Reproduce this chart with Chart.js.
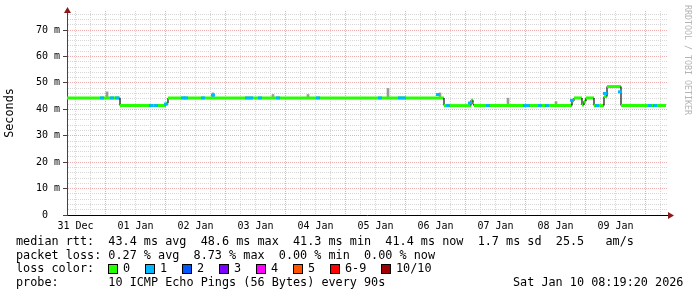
<!DOCTYPE html>
<html>
<head>
<title>Smokeping latency</title>
<style>
body {
	margin: 0;
	background: #fff;
}
#chart {
	display: block;
}
</style>
</head>
<body>
<canvas id="chart" width="697" height="297"></canvas>
<script src="https://cdn.jsdelivr.net/npm/chart.js@4/dist/chart.umd.min.js"></script>
<script>
// x values are hours since 31 Dec 00:00, y values are milliseconds
var dayLabels = ['31 Dec', '01 Jan', '02 Jan', '03 Jan', '04 Jan', '05 Jan', '06 Jan', '07 Jan', '08 Jan', '09 Jan'];

// median rtt, as runs: each run starts at runStart[i] with level runValue[i]
var runStart = [8.6, 29.8, 48.2, 49.0, 159.4, 170.2, 171.0, 171.4, 210.6, 211.4, 214.6, 215.4, 216.2, 219.4, 223.4, 224.6, 230.2];
var runValue = [44.3, 41.4, 42.3, 44.3, 41.4, 43.4, 42.0, 41.4, 43.2, 44.3, 41.6, 43.0, 44.3, 41.4, 44.8, 48.6, 41.4];
var runEnd = 248.2;

// samples with 1/10 loss
var lossTimes = [22.6, 26.6, 28.6, 42.2, 44.2, 48.2, 55.0, 56.2, 63.0, 67.0, 80.6, 82.2, 85.8, 93.0, 109.0, 133.8, 141.8, 143.4, 157.0, 161.0, 169.8, 177.0, 191.8, 193.0, 197.8, 200.6, 210.6, 220.6, 223.8, 229.8, 241.8, 243.8];
var lossRtt = [44.3, 44.3, 44.3, 41.4, 41.4, 42.0, 44.3, 44.3, 44.3, 45.4, 44.3, 44.3, 44.3, 44.3, 44.3, 44.3, 44.3, 44.3, 45.6, 41.4, 42.4, 41.4, 41.4, 41.4, 41.4, 41.4, 43.4, 41.4, 46.0, 46.6, 41.4, 41.4];

// smoke: spread of single pings
var smokeTimes = [24.6, 67.0, 91.0, 105.0, 137.0, 157.8, 185.0, 204.2];
var smokeLow = [44.3, 44.3, 44.3, 44.3, 44.3, 44.3, 41.4, 41.4];
var smokeHigh = [46.6, 46.2, 45.6, 45.6, 47.9, 46.2, 44.2, 42.9];

var statsRtt = 'median rtt:  43.4 ms avg  48.6 ms max  41.3 ms min  41.4 ms now  1.7 ms sd  25.5   am/s';
var statsLoss = 'packet loss: 0.27 % avg  8.73 % max  0.00 % min  0.00 % now';
var lossLabels = ['0', '1', '2', '3', '4', '5', '6-9', '10/10'];
var lossColors = ['#26ff00', '#00b8ff', '#0059ff', '#7e00ff', '#ff00ff', '#ff5500', '#ff0000', '#a10000'];
var probeText = 'probe:       10 ICMP Echo Pings (56 Bytes) every 90s';
var dateText = 'Sat Jan 10 08:19:20 2026';

var xMin = 8.6, xMax = 248.6, yMax = 77.2;
var MONO = '"DejaVu Sans Mono", monospace';
var MAJOR = '#eeb0b0', MINOR = '#d6d6d6';

// build the line points from the runs
var medianPoints = [];
for (var i = 0; i < runStart.length; i++) {
	var end = (i + 1 < runStart.length) ? runStart[i + 1] : runEnd;
	medianPoints.push({x: runStart[i], y: runValue[i]});
	medianPoints.push({x: end, y: runValue[i]});
}
var lossPoints = lossTimes.map(function(t, i) { return {x: t, y: lossRtt[i]}; });
var smokeBars = smokeTimes.map(function(t, i) { return {x: t, y: [smokeLow[i], smokeHigh[i]]}; });

var extras = {
	id: 'extras',
	afterDraw: function(chart) {
		var ctx = chart.ctx, a = chart.chartArea;
		ctx.save();
		// axis arrows
		ctx.fillStyle = '#8b1a1a';
		ctx.beginPath();
		ctx.moveTo(a.left + 0.5, a.top - 4);
		ctx.lineTo(a.left - 3, a.top + 2);
		ctx.lineTo(a.left + 4, a.top + 2);
		ctx.fill();
		ctx.beginPath();
		ctx.moveTo(a.right + 7, a.bottom + 0.5);
		ctx.lineTo(a.right + 1, a.bottom - 3);
		ctx.lineTo(a.right + 1, a.bottom + 4);
		ctx.fill();

		// y title
		ctx.fillStyle = '#000';
		ctx.font = '11.8px ' + MONO;
		ctx.textAlign = 'center';
		ctx.textBaseline = 'middle';
		ctx.save();
		ctx.translate(10, (a.top + a.bottom) / 2);
		ctx.rotate(-Math.PI / 2);
		ctx.fillText('Seconds', 0, 0);
		ctx.restore();

		// watermark
		ctx.save();
		ctx.fillStyle = '#b4b4b4';
		ctx.font = '8.3px ' + MONO;
		ctx.textAlign = 'left';
		ctx.translate(687, 5);
		ctx.rotate(Math.PI / 2);
		ctx.fillText('RRDTOOL / TOBI OETIKER', 0, 0);
		ctx.restore();

		// legend lines
		ctx.textAlign = 'left';
		ctx.fillText(statsRtt, 16, 242);
		ctx.fillText(statsLoss, 16, 255.5);
		ctx.fillText('loss color:', 16, 269);
		ctx.fillText(probeText, 16, 283);
		ctx.fillText(dateText, 513, 283);
		var boxX = [108, 145, 182, 219, 256, 293, 330, 381];
		for (var k = 0; k < lossLabels.length; k++) {
			ctx.fillStyle = lossColors[k];
			ctx.fillRect(boxX[k], 264, 9, 10);
			ctx.strokeStyle = '#000';
			ctx.lineWidth = 1;
			ctx.strokeRect(boxX[k] + 0.5, 264.5, 9, 9);
			ctx.fillStyle = '#000';
			ctx.fillText(lossLabels[k], boxX[k] + 15, 269);
		}
		ctx.restore();
	}
};

new Chart(document.getElementById('chart'), {
	type: 'line',
	data: {
		datasets: [{
			label: 'loss 1',
			data: lossPoints,
			showLine: false,
			pointStyle: 'line',
			pointRadius: 2,
			pointBorderWidth: 3,
			pointBorderColor: lossColors[1],
			pointBackgroundColor: lossColors[1],
			order: 1
		}, {
			label: 'median',
			data: medianPoints,
			borderColor: lossColors[0],
			borderWidth: 3,
			pointRadius: 0,
			tension: 0,
			segment: {
				borderColor: function(c) { return c.p0.parsed.x === c.p1.parsed.x ? '#111' : lossColors[0]; },
				borderWidth: function(c) { return c.p0.parsed.x === c.p1.parsed.x ? 1.2 : 3; }
			},
			order: 2
		}, {
			type: 'bar',
			label: 'smoke',
			data: smokeBars,
			backgroundColor: '#9a9a9a',
			borderWidth: 0,
			barThickness: 2,
			order: 3
		}]
	},
	options: {
		responsive: false,
		animation: false,
		events: [],
		layout: {padding: {top: 11, right: 30, bottom: 62, left: 0}},
		plugins: {
			legend: {display: false},
			tooltip: {enabled: false}
		},
		scales: {
			x: {
				type: 'linear',
				min: xMin,
				max: xMax,
				offset: false,
				afterFit: function(s) { s.height = 20; },
				afterBuildTicks: function(s) {
					var t = [];
					for (var h = 12; h <= xMax; h += 6) t.push({value: h});
					s.ticks = t;
				},
				grid: {
					offset: false,
					color: function(c) { return c.tick && c.tick.value % 24 === 0 ? MAJOR : MINOR; },
					lineWidth: 1,
					drawTicks: false
				},
				border: {color: '#000', width: 1, dash: [1, 1]},
				ticks: {
					autoSkip: false,
					maxRotation: 0,
					padding: 5,
					color: '#000',
					font: {family: MONO, size: 10},
					callback: function(v) {
						return v % 24 === 12 ? dayLabels[(v - 12) / 24] : '';
					}
				}
			},
			y: {
				min: 0,
				max: yMax,
				afterFit: function(s) { s.width = 67; },
				afterBuildTicks: function(s) {
					var t = [];
					for (var v = 0; v <= 76; v += 2) t.push({value: v});
					s.ticks = t;
				},
				grid: {
					color: function(c) { return c.tick && c.tick.value % 10 === 0 ? MAJOR : MINOR; },
					tickColor: function(c) { return c.tick && c.tick.value % 10 === 0 ? '#444' : 'rgba(0,0,0,0)'; },
					tickLength: 4,
					lineWidth: 1
				},
				border: {color: '#444', width: 1, dash: [1, 1]},
				ticks: {
					autoSkip: false,
					padding: 3,
					color: '#000',
					font: {family: MONO, size: 10},
					callback: function(v) {
						if (v === 0) return '0  ';
						return v % 10 === 0 ? v + ' m' : '';
					}
				}
			}
		}
	},
	plugins: [extras]
});
</script>
</body>
</html>
